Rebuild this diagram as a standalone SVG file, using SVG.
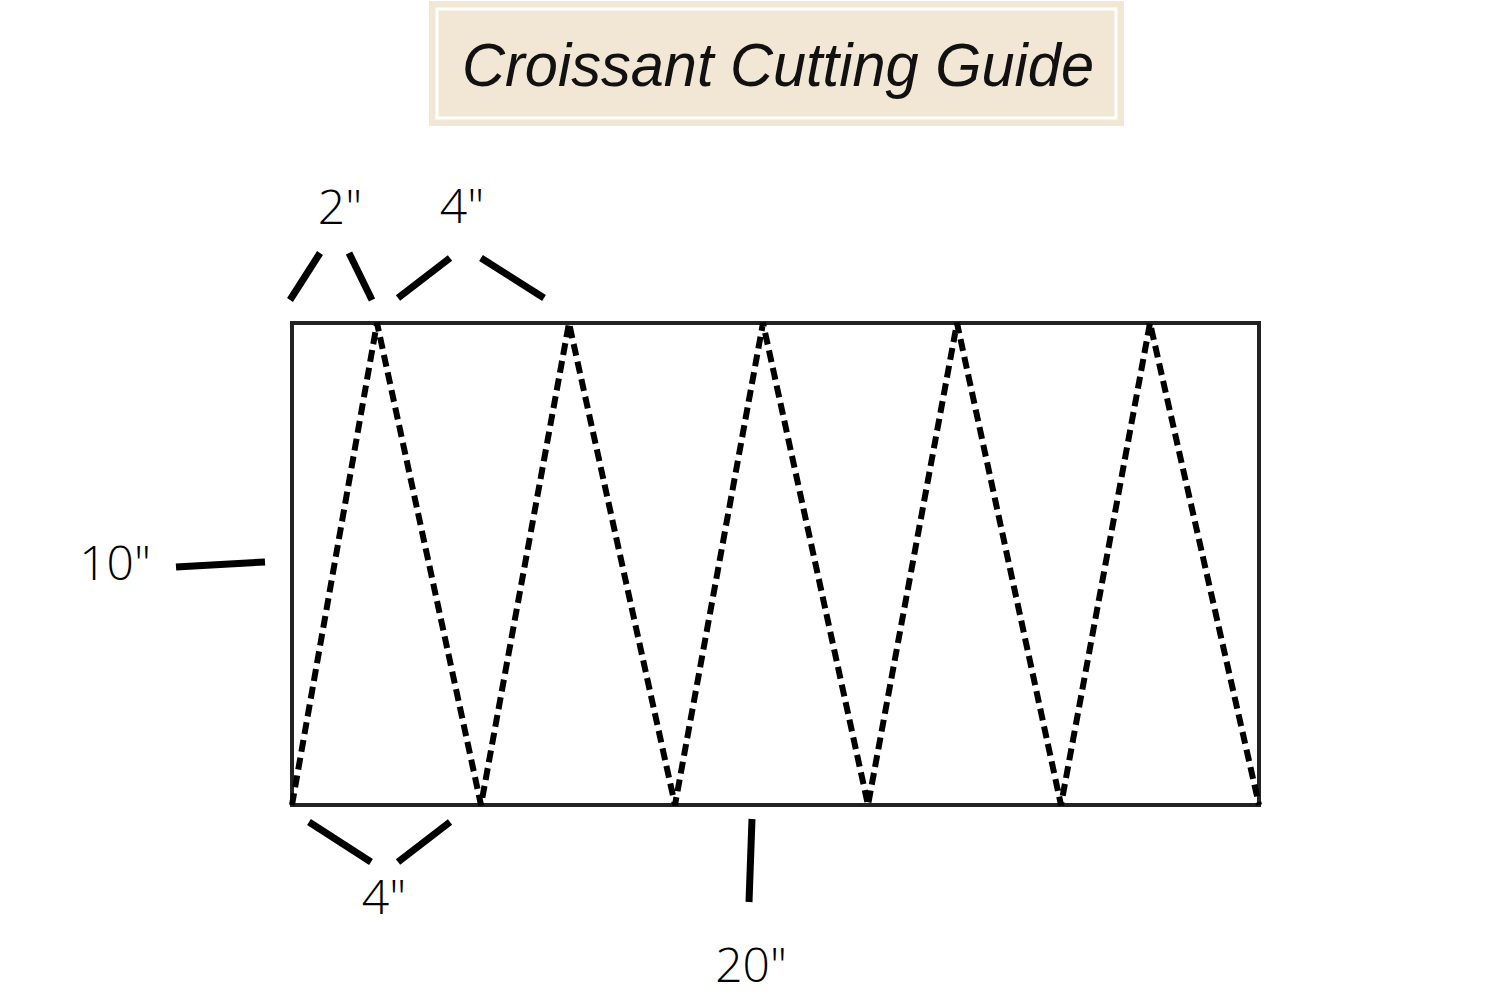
<svg xmlns="http://www.w3.org/2000/svg" width="1500" height="1000" viewBox="0 0 1500 1000">
<style>
.lbl{font-family:"Open Sans","Liberation Sans",sans-serif;font-weight:300;font-size:48px;fill:#000;text-anchor:middle}
.tick{stroke:#000;stroke-width:7;stroke-linecap:butt}
.cut{stroke:#000;stroke-width:6;stroke-dasharray:12 6;fill:none}
</style>
<rect width="1500" height="1000" fill="#fff"/>
<g id="title">
<rect x="429" y="1" width="695" height="125" fill="#f2e7d4"/>
<rect x="437" y="9" width="679" height="109" fill="none" stroke="#fff" stroke-width="3"/>
<text x="778" y="86" font-family="Liberation Sans, sans-serif" font-style="italic" font-size="62" fill="#111" text-anchor="middle" textLength="632" lengthAdjust="spacingAndGlyphs">Croissant Cutting Guide</text>
</g>
<g id="dough">
<rect x="292" y="323" width="967" height="482" fill="none" stroke="#222" stroke-width="4"/>
</g>
<g id="connectors">
<polyline class="cut" points="292,805 377,323 481,805 569,323 675,805 763,323 868,805 957,323 1061,805 1150,323 1259,805"/>
<line class="tick" x1="290" y1="300" x2="320" y2="253"/>
<line class="tick" x1="349" y1="253" x2="372" y2="300"/>
<line class="tick" x1="398" y1="298" x2="450" y2="258"/>
<line class="tick" x1="481" y1="258" x2="544" y2="298"/>
<line class="tick" x1="176" y1="567" x2="265" y2="562"/>
<line class="tick" x1="309" y1="822" x2="371" y2="862"/>
<line class="tick" x1="398" y1="862" x2="450" y2="822"/>
<line class="tick" x1="752" y1="819" x2="749" y2="902"/>
</g>
<g id="labels">
<text class="lbl" x="340" y="224">2"</text>
<text class="lbl" x="462" y="223">4"</text>
<text class="lbl" x="115" y="580">10"</text>
<text class="lbl" x="384" y="914">4"</text>
<text class="lbl" x="751" y="982">20"</text>
</g>
</svg>
